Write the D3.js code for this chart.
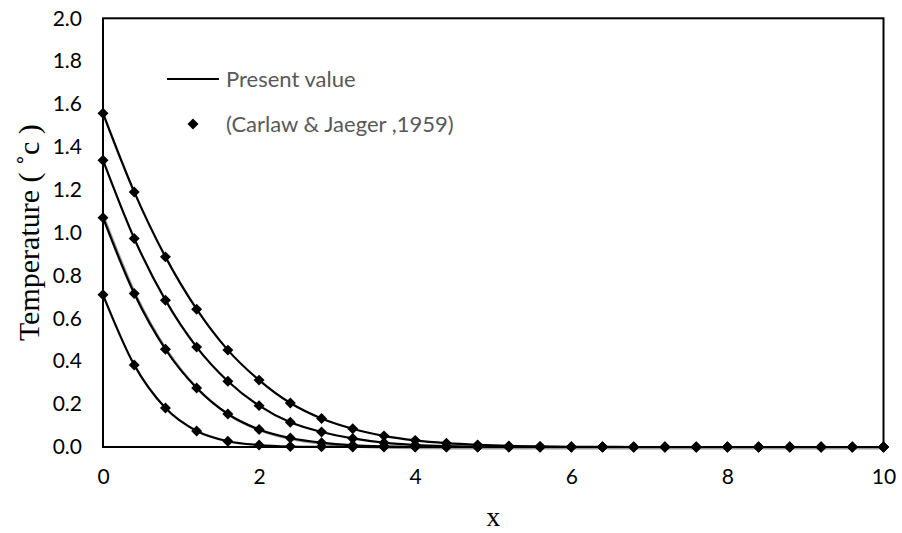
<!DOCTYPE html>
<html>
<head>
<meta charset="utf-8">
<script src="https://cdn.jsdelivr.net/npm/d3@7"></script>
<style>
  html, body { margin: 0; padding: 0; background: #fff; }
  svg { display: block; }
</style>
</head>
<body>
<svg id="chart" width="902" height="533"></svg>
<script>
// Distance along the slab
const xValues = [0, 0.4, 0.8, 1.2, 1.6, 2.0, 2.4, 2.8, 3.2, 3.6, 4.0, 4.4, 4.8,
                 5.2, 5.6, 6.0, 6.4, 6.8, 7.2, 7.6, 8.0, 8.4, 8.8, 9.2, 9.6, 10.0];

// Temperature profiles, one per time level (highest first)
const tempA = [1.557, 1.190, 0.887, 0.643, 0.452, 0.312, 0.205, 0.133, 0.085, 0.052, 0.031, 0.018, 0.010,
               0.005, 0.003, 0.001, 0.001, 0, 0, 0, 0, 0, 0, 0, 0, 0];
const tempB = [1.338, 0.973, 0.685, 0.466, 0.307, 0.193, 0.115, 0.070, 0.040, 0.020, 0.009, 0.004, 0.002,
               0.001, 0, 0, 0, 0, 0, 0, 0, 0, 0, 0, 0, 0];
const tempC = [1.070, 0.716, 0.456, 0.275, 0.154, 0.082, 0.042, 0.020, 0.008, 0.003, 0.001, 0, 0,
               0, 0, 0, 0, 0, 0, 0, 0, 0, 0, 0, 0, 0];
const tempD = [0.710, 0.383, 0.182, 0.075, 0.027, 0.009, 0.002, 0.001, 0, 0, 0, 0, 0,
               0, 0, 0, 0, 0, 0, 0, 0, 0, 0, 0, 0, 0];

const seriesList = [tempA, tempB, tempC, tempD];
const shadowed = [false, false, true, false];

const yTicks = [0, 0.2, 0.4, 0.6, 0.8, 1.0, 1.2, 1.4, 1.6, 1.8, 2.0];
const xTicks = [0, 2, 4, 6, 8, 10];

const legendLine = "Present value";
const legendMarker = "(Carlaw & Jaeger ,1959)";
const xTitle = "x";
const yTitle = "Temperature ( \u02DAc )";

const svg = d3.select("#chart");
const plotLeft = 103, plotRight = 883.5, plotTop = 18.3, plotBottom = 447;

const x = d3.scaleLinear().domain([0, 10]).range([plotLeft, plotRight]);
const y = d3.scaleLinear().domain([0, 2]).range([plotBottom, plotTop]);

const tickFont = "Lato, 'Open Sans', sans-serif";
const serif = "'Liberation Serif', 'DejaVu Serif', serif";

svg.append("rect").attr("width", 902).attr("height", 533).attr("fill", "#fff");

// Y axis labels
const gy = svg.append("g")
  .attr("transform", `translate(${plotLeft},0)`)
  .call(d3.axisLeft(y).tickValues(yTicks).tickFormat(d3.format(".1f")).tickSize(0).tickPadding(21));
gy.select(".domain").remove();
gy.selectAll("text").attr("font-family", tickFont).attr("font-size", 21).attr("fill", "#000");

// X axis labels
const gx = svg.append("g")
  .attr("transform", `translate(0,${plotBottom})`)
  .call(d3.axisBottom(x).tickValues(xTicks).tickFormat(d3.format("d")).tickSize(0).tickPadding(22));
gx.select(".domain").remove();
gx.selectAll("text").attr("font-family", tickFont).attr("font-size", 21).attr("fill", "#000");

// Axis titles
svg.append("text")
  .attr("x", (plotLeft + plotRight) / 2).attr("y", 526)
  .attr("text-anchor", "middle")
  .attr("font-family", serif).attr("font-size", 28).attr("fill", "#000")
  .text(xTitle);

svg.append("text")
  .attr("transform", `translate(39,${(plotTop + plotBottom) / 2}) rotate(-90)`)
  .attr("text-anchor", "middle")
  .attr("font-family", serif).attr("font-size", 30).attr("fill", "#000")
  .text(yTitle);

// Plot frame
svg.append("rect")
  .attr("x", plotLeft).attr("y", plotTop)
  .attr("width", plotRight - plotLeft).attr("height", plotBottom - plotTop)
  .attr("fill", "none").attr("stroke", "#000").attr("stroke-width", 2);

const line = d3.line()
  .x((d, i) => x(xValues[i]))
  .y(d => y(d))
  .curve(d3.curveCardinal.tension(0));

// Soft shadow under one profile
seriesList.forEach((vals, k) => {
  if (!shadowed[k]) return;
  svg.append("path")
    .attr("d", line(vals))
    .attr("transform", "translate(1.6,1.2)")
    .attr("fill", "none").attr("stroke", "#9a9a9a").attr("stroke-width", 2.4);
});

// Smooth solution curves
seriesList.forEach(vals => {
  svg.append("path")
    .attr("d", line(vals))
    .attr("fill", "none").attr("stroke", "#000").attr("stroke-width", 2.2);
});

// Reference points as diamonds
const diamond = d3.symbol().type(d3.symbolSquare).size(60);
seriesList.forEach(vals => {
  svg.append("g").selectAll("path")
    .data(vals)
    .join("path")
    .attr("d", diamond)
    .attr("transform", (d, i) => `translate(${x(xValues[i])},${y(d)}) rotate(45)`)
    .attr("fill", "#000");
});

// Legend
const lg = svg.append("g");
lg.append("line")
  .attr("x1", 167).attr("x2", 219).attr("y1", 79).attr("y2", 79)
  .attr("stroke", "#000").attr("stroke-width", 2.2);
lg.append("text")
  .attr("x", 226).attr("y", 79).attr("dy", "0.35em")
  .attr("font-family", tickFont).attr("font-size", 22).attr("fill", "#595959")
  .text(legendLine);
lg.append("path")
  .attr("d", diamond)
  .attr("transform", "translate(193,124) rotate(45)")
  .attr("fill", "#000");
lg.append("text")
  .attr("x", 226).attr("y", 124).attr("dy", "0.35em")
  .attr("font-family", tickFont).attr("font-size", 22).attr("fill", "#595959")
  .text(legendMarker);
</script>
</body>
</html>
